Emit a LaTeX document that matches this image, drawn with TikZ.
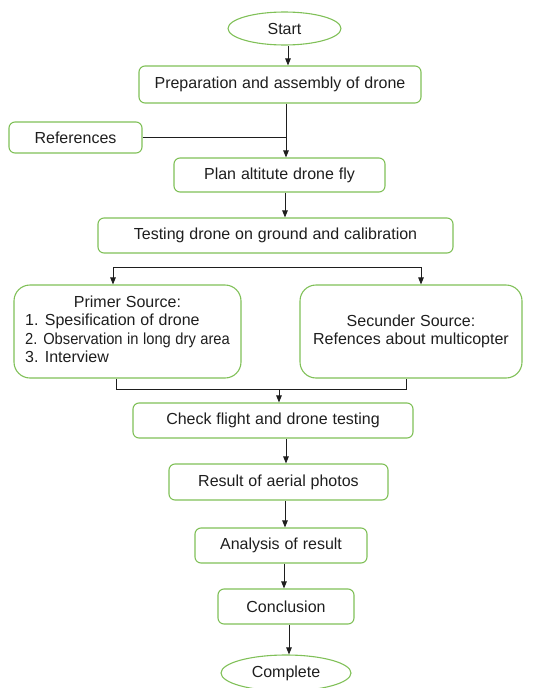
\documentclass[tikz,border=0pt]{standalone}
\usepackage{fontspec}
\setmainfont[WordSpace={1.1}]{Liberation Sans}
\usepackage{graphicx}
\usetikzlibrary{shapes.geometric,arrows.meta}
\definecolor{boxgreen}{RGB}{128,192,88}
\definecolor{linegray}{RGB}{30,30,30}
\begin{document}
\begin{tikzpicture}[x=1pt,y=-1pt,
  box/.style={draw=boxgreen,line width=1.1pt,rounded corners=6pt,inner sep=0pt,align=center,
    text=linegray,font=\fontsize{16}{18.5}\selectfont},
  bigbox/.style={box,rounded corners=16pt},
  oval/.style={ellipse,draw=boxgreen,line width=1.1pt,inner sep=0pt,text=linegray,
    font=\fontsize{16}{18.5}\selectfont},
  conn/.style={draw=linegray,line width=0.9pt},
  arr/.style={conn,-{Triangle[length=7pt,width=5.5pt]}},
  darr/.style={conn,{Triangle[length=7pt,width=5.5pt]}-{Triangle[length=7pt,width=5.5pt]}}]
\useasboundingbox (0,0) rectangle (540,688);

% nodes
\node[oval,minimum width=113pt,minimum height=33pt] (start) at (284.5,28.5) {Start};
\node[box,minimum width=282pt,minimum height=37pt] (prep) at (280,84.5) {Preparation and assembly of drone};
\node[box,minimum width=133pt,minimum height=31pt] (refs) at (75.5,137.5) {References};
\node[box,minimum width=211pt,minimum height=34pt] (plan) at (279.5,175) {Plan altitute drone fly};
\node[box,minimum width=355pt,minimum height=35pt] (test) at (275.5,235.5) {Testing drone on ground and calibration};
\node[bigbox,minimum width=227pt,minimum height=93pt] (primer) at (127.5,331.5)
  {\begin{tabular}{@{}l@{}}\multicolumn{1}{@{}c@{}}{Primer Source:}\\
   1. Spesification of drone\\
   \scalebox{0.92}[1]{2. Observation in long dry area}\\
   3. Interview\end{tabular}};
\node[bigbox,minimum width=222pt,minimum height=93pt] (secunder) at (411,331.5)
  {Secunder Source:\\Refences about multicopter};
\node[box,minimum width=280pt,minimum height=35pt] (check) at (273,420.5) {Check flight and drone testing};
\node[box,minimum width=219pt,minimum height=36pt] (result) at (278.5,482) {Result of aerial photos};
\node[box,minimum width=172pt,minimum height=35pt] (analysis) at (281,545.5) {Analysis of result};
\node[box,minimum width=136pt,minimum height=35pt] (concl) at (286,606.5) {Conclusion};
\node[oval,minimum width=130pt,minimum height=36pt] (complete) at (286,673) {Complete};

% helper coordinates
\coordinate (c1) at (288,0);
\coordinate (c2) at (286,0);
\coordinate (c3) at (285,0);
\coordinate (sL) at (113,267);
\coordinate (sR) at (421,267);
\coordinate (mL) at (116,389);
\coordinate (mR) at (406,389);
\coordinate (mM) at (279,389);
\coordinate (c4) at (286,0);
\coordinate (c5) at (285,0);
\coordinate (c6) at (284,0);
\coordinate (c7) at (289,0);

% connectors
\draw[arr] (start.south -| c1) -- (prep.north -| c1);
\draw[conn] (refs.east) -- (refs.east -| c2);
\draw[arr] (prep.south -| c2) -- (plan.north -| c2);
\draw[arr] (plan.south -| c3) -- (test.north -| c3);
\draw[darr] (primer.north -| sL) -- (sL) -- (sR) -- (secunder.north -| sR);
\draw[conn] (primer.south -| mL) -- (mL) -- (mR) -- (secunder.south -| mR);
\draw[arr] (mM) -- (check.north -| mM);
\draw[arr] (check.south -| c4) -- (result.north -| c4);
\draw[arr] (result.south -| c5) -- (analysis.north -| c5);
\draw[arr] (analysis.south -| c6) -- (concl.north -| c6);
\draw[arr] (concl.south -| c7) -- (complete.north -| c7);
\end{tikzpicture}
\end{document}
